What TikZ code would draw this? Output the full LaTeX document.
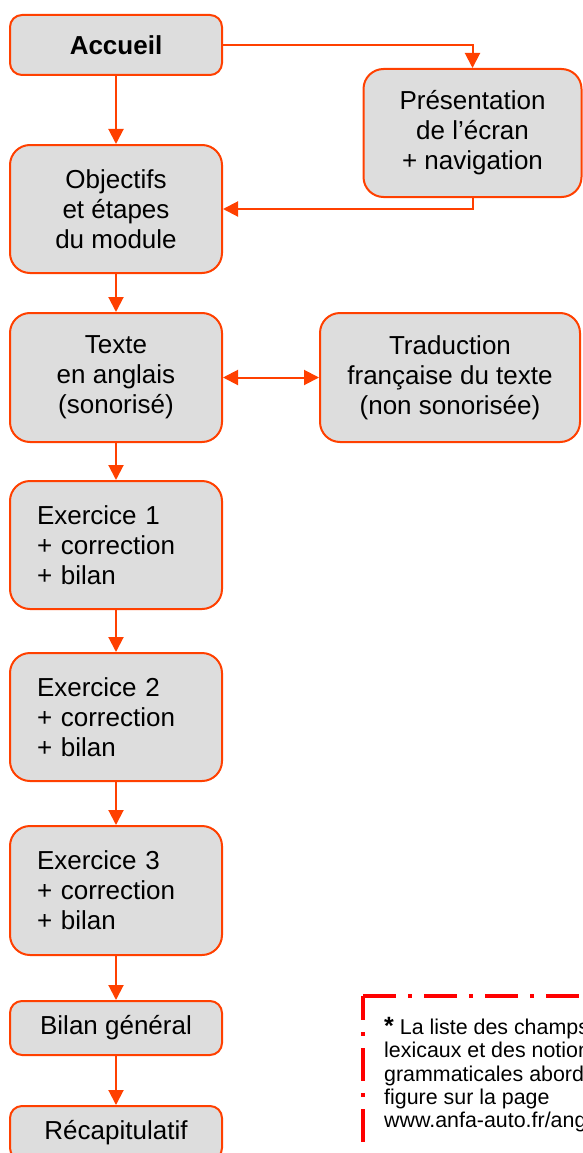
\documentclass[tikz,border=0pt]{standalone}
\usepackage{fontspec}
\setmainfont{Liberation Sans}
\usetikzlibrary{arrows.meta}
\definecolor{bord}{RGB}{255,64,0}
\definecolor{boxfill}{RGB}{221,221,221}
\definecolor{noteRed}{RGB}{255,0,0}
\begin{document}
\begin{tikzpicture}[x=1pt,y=-1pt,
  box/.style={draw=bord, line width=2pt, fill=boxfill, rounded corners=20pt,
    minimum width=212pt, minimum height=128pt, inner sep=0pt, align=center,
    font=\fontsize{26}{30}\selectfont},
  shortbox/.style={box, rounded corners=12pt, minimum height=60pt},
  leftbox/.style={box, align=left, text width=158pt, inner xsep=27pt},
  conn/.style={draw=bord, line width=2pt, -{Triangle[length=15pt,width=15pt]}},
  biconn/.style={draw=bord, line width=2pt, {Triangle[length=15pt,width=15pt]}-{Triangle[length=15pt,width=15pt]}},
  note/.style={draw=noteRed, line width=4pt, dash pattern=on 33pt off 12pt on 4pt off 12pt}
]
\useasboundingbox (0,0) rectangle (582,1153);

\node[shortbox] (acc) at (116,45) {\textbf{Accueil}};
\node[box, minimum width=218pt] (pres) at (472.5,133) {Présentation\\de l’écran\\+ navigation};
\node[box] (obj) at (116,209) {Objectifs\\et étapes\\du module};
\node[box, minimum height=129pt] (texte) at (116,377.5) {Texte\\en anglais\\(sonorisé)};
\node[box, minimum width=260pt, minimum height=129pt] (trad) at (450,377.5) {Traduction\\française du texte\\(non sonorisée)};
\node[leftbox] (ex1) at (116,545) {Exercice 1\\+ correction\\+ bilan};
\node[leftbox] (ex2) at (116,717) {Exercice 2\\+ correction\\+ bilan};
\node[leftbox, minimum height=129pt] (ex3) at (116,890.5) {Exercice 3\\+ correction\\+ bilan};
\node[shortbox, minimum height=54pt] (bilan) at (116,1028) {Bilan général};
\node[shortbox, minimum height=54pt] (recap) at (116,1133) {Récapitulatif};

\draw[conn] (acc.east) -| (pres.north);
\draw[conn] (pres.south) |- (obj.east);
\draw[conn] (acc.south) -- (obj.north);
\draw[conn] (obj.south) -- (texte.north);
\draw[biconn] (texte.east) -- (trad.west);
\draw[conn] (texte.south) -- (ex1.north);
\draw[conn] (ex1.south) -- (ex2.north);
\draw[conn] (ex2.south) -- (ex3.north);
\draw[conn] (ex3.south) -- (bilan.north);
\draw[conn] (bilan.south) -- (recap.north);

\coordinate (nc) at (363,996);
\coordinate (nr) at (620,996);
\coordinate (nb) at (363,1180);
\draw[note] (nc) -- (nr);
\draw[note, dash phase=9pt] (nc) -- (nb);
\node[anchor=north west, align=left, inner sep=0pt, font=\fontsize{21.4}{23.3}\selectfont] (notetext) at (384,1017)
  {{\fontsize{25}{23.3}\selectfont\textbf{*}} La liste des champs\\lexicaux et des notions\\grammaticales abordées\\figure sur la page\\www.anfa-auto.fr/ang};
\end{tikzpicture}
\end{document}
